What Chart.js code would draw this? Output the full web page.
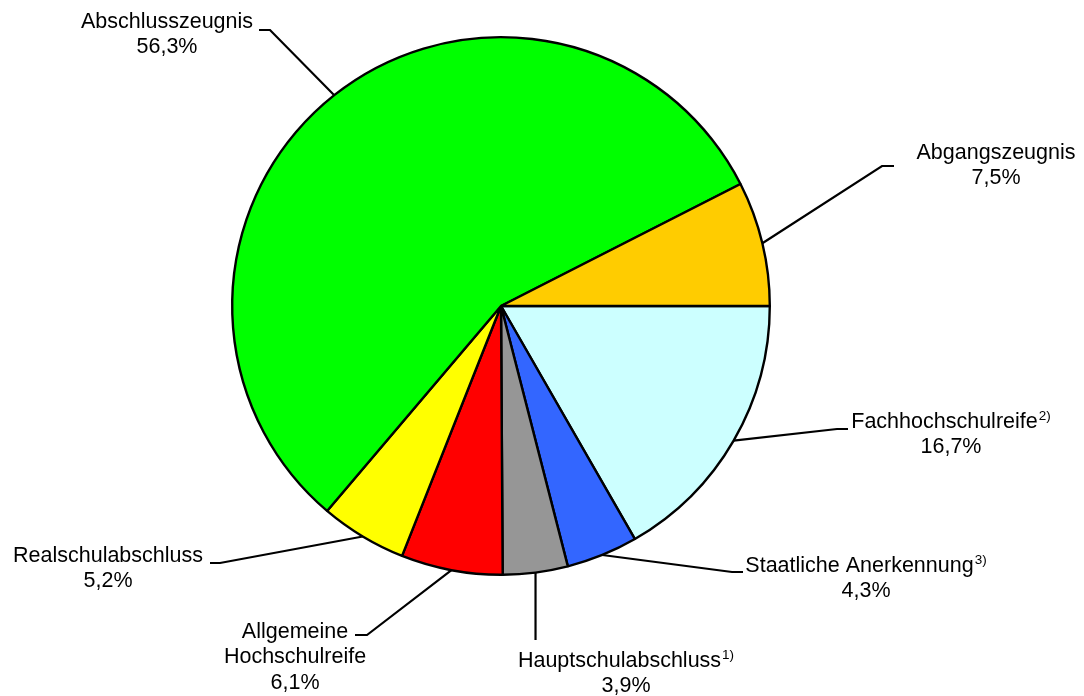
<!DOCTYPE html>
<html>
<head>
<meta charset="utf-8">
<script src="https://cdn.jsdelivr.net/npm/chart.js@4.4.1/dist/chart.umd.min.js"></script>
<style>
  html, body { margin: 0; padding: 0; background: #fff; }
  canvas { display: block; }
</style>
</head>
<body>
<canvas id="pieChart" width="1084" height="696"></canvas>
<script>
// data, clockwise from 3 o'clock
const categories = [
    "Fachhochschulreife",
    "Staatliche Anerkennung",
    "Hauptschulabschluss",
    "Allgemeine\nHochschulreife",
    "Realschulabschluss",
    "Abschlusszeugnis",
    "Abgangszeugnis",
];
const footnotes = ["2)", "3)", "1)", "", "", "", ""];
const shares = [16.7, 4.3, 3.9, 6.1, 5.2, 56.3, 7.5];
const colors = ["#CCFFFF", "#3366FF", "#969696", "#FF0000", "#FFFF00", "#00FF00", "#FFCC00"];

// label placement: leader elbow, end of the short stroke, text centre, first line y
const labelLayout = [
    { elbow: [837, 429], end: [848, 429], cx: 951, y: 422 },
    { elbow: [732, 572], end: [743, 572], cx: 866, y: 566 },
    { elbow: null, end: null, drop: 640, cx: 626, y: 661 },
    { elbow: [367, 635], end: [355, 635], cx: 295, y: 632 },
    { elbow: [220, 563], end: [210, 563], cx: 108, y: 556 },
    { elbow: [270, 30], end: [259, 30], cx: 167, y: 22 },
    { elbow: [882, 166], end: [894, 166], cx: 996, y: 153 },
];

const FONT = '21.5px "Liberation Sans", Arial, sans-serif';
const SUP_FONT = '13.5px "Liberation Sans", Arial, sans-serif';
const LINE_H = 25.5;

function fmt(v) {
    return v.toFixed(1).replace(".", ",") + "%";
}

function drawTextLine(ctx, text, note, cx, y) {
    ctx.font = FONT;
    const w1 = ctx.measureText(text).width;
    let w2 = 0;
    if (note) {
        ctx.font = SUP_FONT;
        w2 = ctx.measureText(note).width + 1;
    }
    const x0 = cx - (w1 + w2) / 2;
    ctx.font = FONT;
    ctx.fillText(text, x0, y);
    if (note) {
        ctx.font = SUP_FONT;
        ctx.fillText(note, x0 + w1 + 1, y - 6);
    }
}

const pieLabels = {
    id: "pieLabels",
    afterDraw(chart) {
        const ctx = chart.ctx;
        const arcs = chart.getDatasetMeta(0).data;
        ctx.save();
        ctx.strokeStyle = "#000";
        ctx.lineWidth = 2.2;
        ctx.fillStyle = "#000";
        ctx.textAlign = "left";
        ctx.textBaseline = "middle";
        arcs.forEach((arc, i) => {
            const p = arc.getProps(["x", "y", "startAngle", "endAngle", "outerRadius"], true);
            const mid = (p.startAngle + p.endAngle) / 2;
            const sx = p.x + Math.cos(mid) * p.outerRadius;
            const sy = p.y + Math.sin(mid) * p.outerRadius;
            const lay = labelLayout[i];
            ctx.beginPath();
            ctx.moveTo(sx, sy);
            if (lay.elbow) {
                ctx.lineTo(lay.elbow[0], lay.elbow[1]);
                if (lay.end) ctx.lineTo(lay.end[0], lay.end[1]);
            } else {
                // straight drop below the slice
                ctx.lineTo(sx, lay.drop);
            }
            ctx.stroke();

            const lines = categories[i].split("\n");
            let y = lay.y;
            lines.forEach((ln, k) => {
                const note = k === lines.length - 1 ? footnotes[i] : "";
                drawTextLine(ctx, ln, note, lay.cx, y);
                y += LINE_H;
            });
            drawTextLine(ctx, fmt(shares[i]), "", lay.cx, y);
        });
        ctx.restore();
    },
};

const ctx = document.getElementById("pieChart");
const chart = new Chart(ctx, {
    type: "pie",
    data: {
        labels: categories,
        datasets: [
            {
                data: shares,
                backgroundColor: colors,
                borderColor: "#000",
                borderWidth: 2.4,
            },
        ],
    },
    options: {
        responsive: false,
        animation: false,
        rotation: 90,
        layout: {
            padding: { left: 231, right: 313, top: 36, bottom: 120 },
        },
        plugins: {
            legend: { display: false },
            tooltip: { enabled: false },
        },
    },
    plugins: [pieLabels],
});
</script>
</body>
</html>
